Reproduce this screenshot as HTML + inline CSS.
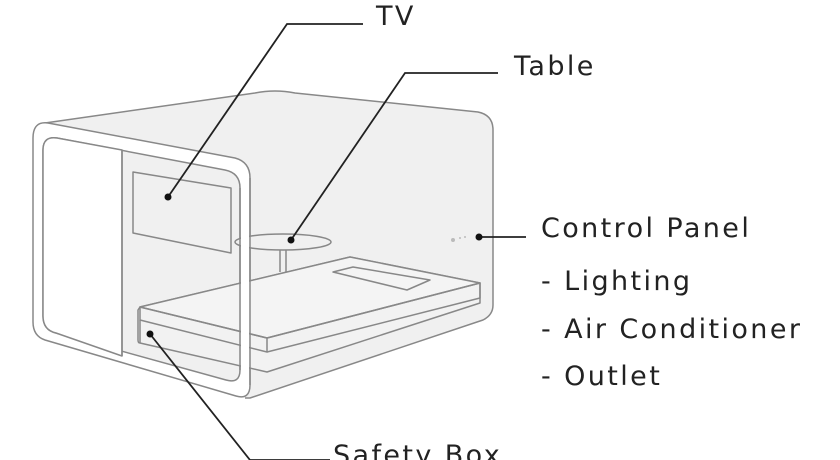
<!DOCTYPE html>
<html><head><meta charset="utf-8"><style>
html,body{margin:0;padding:0;background:#fff;}
svg{display:block;}
text{font-family:"DejaVu Sans","Liberation Sans",sans-serif;font-size:27px;letter-spacing:2.4px;fill:#222;}
</style></head><body>
<svg width="840" height="460" viewBox="0 0 840 460" xmlns="http://www.w3.org/2000/svg">
<g fill="none" stroke="#888" stroke-width="1.5" stroke-linejoin="round">
<path d="M45,123 L255,93 Q275,89 295,93 L478,112 Q493,115 493,130 L493,305 Q493,315 483,320 L250,398 L245,398" fill="#f0f0f0"/>
<path d="M48,123 L235,158 Q250,162 250,178 L250,385 Q250,400 236,396 L45,340 Q33,336 33,322 L33,138 Q33,121 48,123 Z" fill="#fff"/>
<path d="M57,138 L225,170 Q240,173 240,188 L240,370 Q240,384 226,380 L56,333 Q43,330 43,316 L43,150 Q43,136 57,138 Z" fill="#f0f0f0"/>
<path d="M57,138 L122,150 L122,356 L56,333 Q43,330 43,316 L43,150 Q43,136 57,138 Z" fill="#fff"/>
<line x1="122" y1="150" x2="122" y2="356"/>
<polygon points="133,172 231,188 231,253 133,233" fill="#f0f0f0"/>
<line x1="280" y1="248" x2="280" y2="272"/>
<line x1="286" y1="248" x2="286" y2="272"/>
<ellipse cx="283" cy="242" rx="48" ry="8" fill="#f0f0f0"/>
<path d="M140,307 L350,257 L480,283 L480,303 L267,372 L140,343 Q138,343 138,340 L138,310 Z" fill="#f2f2f2"/>
<path d="M140,307 L350,257 L480,283 L267,338 Z" fill="#f4f4f4"/>
<path d="M140,307 L267,338 L267,352 L140,320 Z"/>
<path d="M267,338 L480,283 L480,298 L267,352"/>
<path d="M140,320 L140,343"/>
<polygon points="333,272 353,267 430,280 407,290" fill="#f4f4f4"/>
<rect x="241" y="175" width="8" height="212" fill="#fff" stroke="none"/>
<path d="M240,188 L240,370"/><path d="M250,178 L250,385"/>
<circle cx="453" cy="240" r="2" fill="#bbb" stroke="none"/>
<circle cx="460" cy="238" r="1" fill="#bbb" stroke="none"/>
<circle cx="465" cy="237" r="1" fill="#bbb" stroke="none"/>
</g>
<g stroke="#222" stroke-width="1.8" fill="none">
<polyline points="168,197 287,24 363,24"/>
<polyline points="291,240 405,73 498,73"/>
<line x1="479" y1="237" x2="526" y2="237"/>
<polyline points="150,334 250,460 330,460"/>
</g>
<g fill="#111">
<circle cx="168" cy="197" r="3.5"/><circle cx="291" cy="240" r="3.5"/>
<circle cx="479" cy="237" r="3.5"/><circle cx="150" cy="334" r="3.5"/>
</g>
<text x="376" y="25">TV</text>
<text x="514" y="75">Table</text>
<text x="541" y="237">Control Panel</text>
<text x="541" y="290">- Lighting</text>
<text x="541" y="338">- Air Conditioner</text>
<text x="541" y="385">- Outlet</text>
<text x="333" y="464">Safety Box</text>
</svg>
</body></html>
